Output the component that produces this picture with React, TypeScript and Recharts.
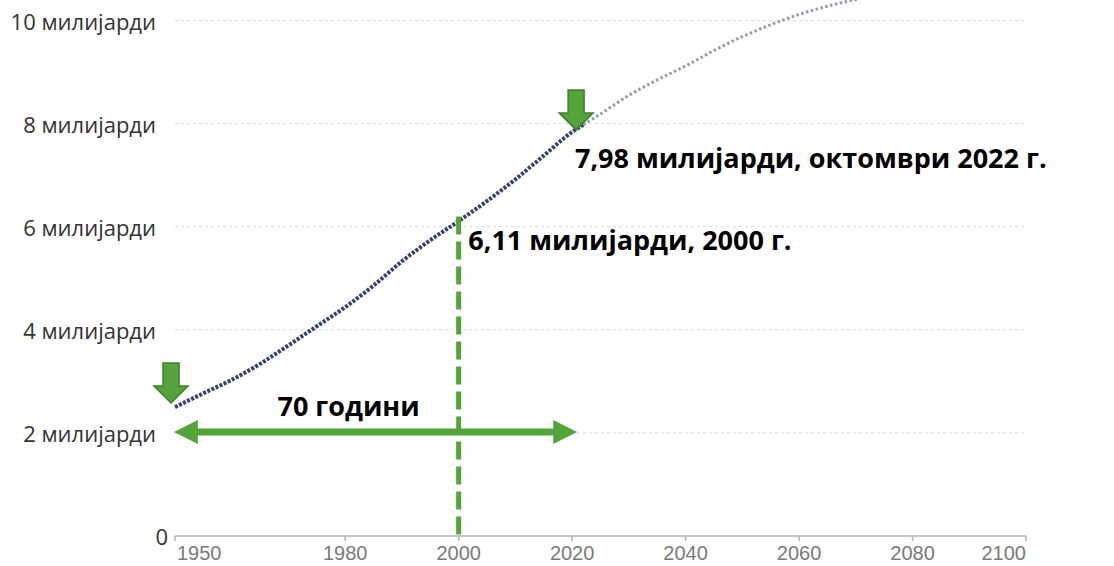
import React from "react";
import {
  ComposedChart, Line, XAxis, YAxis, CartesianGrid, ReferenceLine, ReferenceDot,
} from "recharts";

// population, billions (historical to Oct 2022, then projection)
const histYears = [1950, 1955, 1960, 1965, 1970, 1975, 1980, 1985, 1990, 1995, 2000, 2005, 2010, 2015, 2020, 2022];
const histValues = [2.5, 2.77, 3.03, 3.34, 3.7, 4.07, 4.44, 4.86, 5.33, 5.74, 6.11, 6.5, 6.92, 7.38, 7.84, 7.98];
const projYears = [2022, 2025, 2030, 2035, 2040, 2045, 2050, 2055, 2060, 2065, 2070, 2080, 2090, 2100];
const projValues = [7.98, 8.19, 8.55, 8.85, 9.12, 9.42, 9.69, 9.92, 10.12, 10.28, 10.41, 10.6, 10.65, 10.6];

const xTicks = [1950, 1980, 2000, 2020, 2040, 2060, 2080, 2100];
const yTicks = [0, 2, 4, 6, 8, 10];
const yUnit = "милијарди";

const label2022 = "7,98 милијарди, октомври 2022 г.";
const label2000 = "6,11 милијарди, 2000 г.";
const labelSpan = "70 години";

const GREEN = "#55a33b";
const GREEN_DARK = "#3f7f2c";

const data = [
  ...histYears.map((year, i) => ({ year, hist: histValues[i], proj: year === 2022 ? projValues[0] : undefined })),
  ...projYears.slice(1).map((year, i) => ({ year, proj: projValues[i + 1] })),
];

const YTick = ({ x, y, payload }: any) => {
  const v = payload.value;
  return (
    <text x={v === 0 ? x + 12 : x} y={y} textAnchor="end" dominantBaseline="central"
      fontFamily="'Open Sans', sans-serif" fontSize={22} fill="#333">
      {v === 0 ? "0" : `${v} ${yUnit}`}
    </text>
  );
};

const XTick = ({ x, y, payload, index }: any) => {
  const anchor = index === 0 ? "start" : index === xTicks.length - 1 ? "end" : "middle";
  return (
    <text x={index === 0 ? x + 2 : x} y={y + 10} textAnchor={anchor} dominantBaseline="central"
      fontFamily="'Liberation Sans', Arial, sans-serif" fontSize={20} fill="#7a7a7a">
      {payload.value}
    </text>
  );
};

const DownArrow = ({ cx, cy }: any) => {
  // tip at (cx, cy)
  const p = [
    [cx - 8, cy - 40], [cx + 8, cy - 40], [cx + 8, cy - 17], [cx + 17, cy - 17],
    [cx, cy], [cx - 17, cy - 17], [cx - 8, cy - 17],
  ].map((q) => q.join(",")).join(" ");
  return <polygon points={p} fill={GREEN} stroke={GREEN_DARK} strokeWidth={1.5} />;
};

const BoldText = (text: string, anchor: "start" | "middle") => ({ cx, cy }: any) => (
  <text x={cx} y={cy} textAnchor={anchor} dominantBaseline="central"
    fontFamily="'Open Sans', sans-serif" fontWeight={700} fontSize={27} fill="#000">
    {text}
  </text>
);

const DoubleArrow = ({ x1, y1, x2 }: any) => {
  const h = 12, w = 24;
  return (
    <g>
      <line x1={x1 + w - 2} y1={y1} x2={x2 - w + 2} y2={y1} stroke={GREEN} strokeWidth={7} />
      <polygon points={`${x1},${y1} ${x1 + w},${y1 - h} ${x1 + w},${y1 + h}`} fill={GREEN} />
      <polygon points={`${x2},${y1} ${x2 - w},${y1 - h} ${x2 - w},${y1 + h}`} fill={GREEN} />
    </g>
  );
};

export default function App() {
  return (
    <div style={{ position: "absolute", left: 0, top: 0, background: "#fff" }}>
      <ComposedChart width={1114} height={566} data={data} margin={{ top: 0, right: 88, bottom: 0, left: 0 }}>
        <CartesianGrid vertical={false} stroke="#d9d9d9" strokeDasharray="3 3" horizontalValues={[2, 4, 6, 8, 10]} />
        <XAxis type="number" dataKey="year" domain={[1950, 2100]} ticks={xTicks} tick={<XTick />}
          axisLine={{ stroke: "#b5b5b5", strokeWidth: 1.5 }} tickLine={{ stroke: "#b5b5b5", strokeWidth: 1.5 }}
          tickSize={5} height={30} interval={0} />
        <YAxis type="number" domain={[0, 10.4]} ticks={yTicks} allowDataOverflow width={175}
          axisLine={false} tickLine={false} tickSize={0} tickMargin={19} tick={<YTick />} interval={0} />
        <Line dataKey="proj" type="monotone" stroke="#939bad" strokeWidth={3} strokeDasharray="2.5 2.5"
          dot={false} isAnimationActive={false} connectNulls />
        <Line dataKey="hist" type="monotone" stroke="#34436a" strokeWidth={4} strokeDasharray="3 1.5"
          dot={false} isAnimationActive={false} />
        <ReferenceLine segment={[{ x: 2000, y: 6.2 }, { x: 2000, y: -0.06 }]} stroke={GREEN} strokeWidth={5}
          strokeDasharray="18 7" ifOverflow="visible" />
        <ReferenceLine segment={[{ x: 1949.8, y: 2.02 }, { x: 2020.9, y: 2.02 }]} ifOverflow="visible"
          shape={<DoubleArrow />} />
        <ReferenceDot x={1949.3} y={2.58} r={1} ifOverflow="visible" shape={<DownArrow />} />
        <ReferenceDot x={2020.7} y={7.88} r={1} ifOverflow="visible" shape={<DownArrow />} />
        <ReferenceDot x={2020.5} y={7.34} r={1} ifOverflow="visible" shape={BoldText(label2022, "start")} />
        <ReferenceDot x={2001.7} y={5.75} r={1} ifOverflow="visible" shape={BoldText(label2000, "start")} />
        <ReferenceDot x={1980.6} y={2.54} r={1} ifOverflow="visible" shape={BoldText(labelSpan, "middle")} />
      </ComposedChart>
    </div>
  );
}
